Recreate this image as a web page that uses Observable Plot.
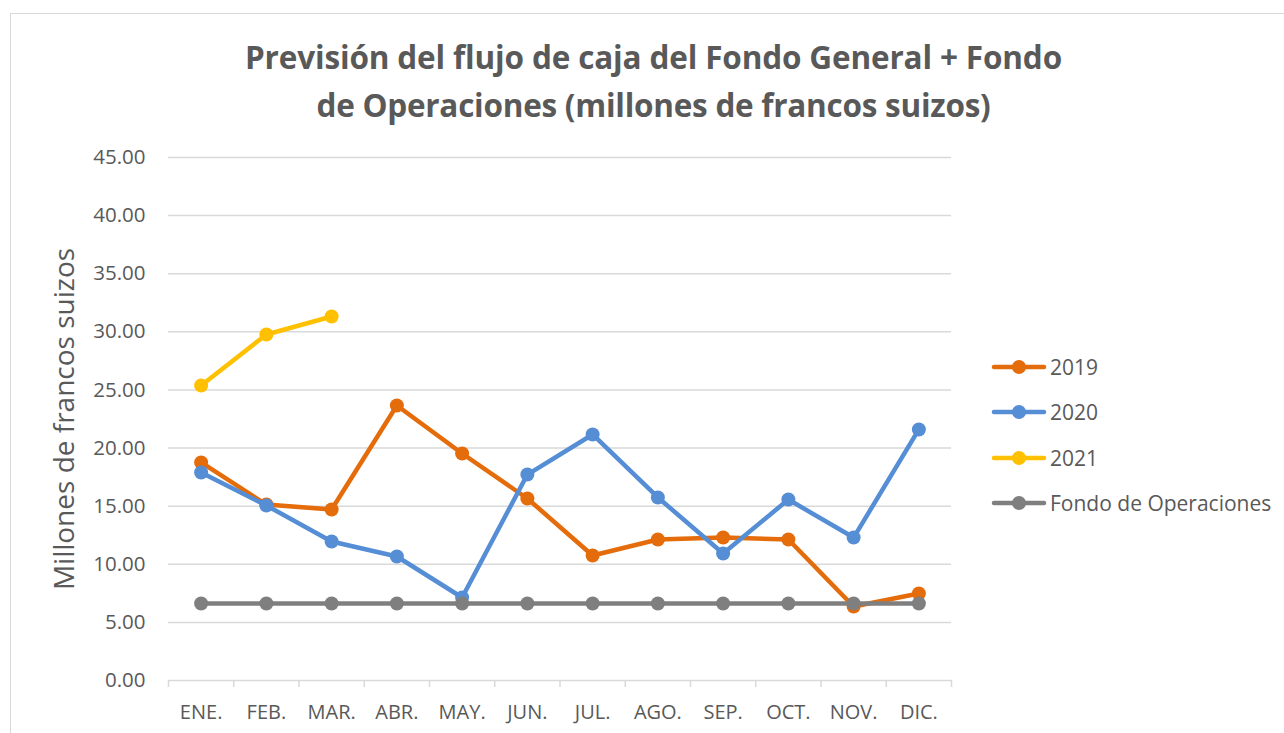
<!DOCTYPE html>
<html>
<head>
<meta charset="utf-8">
<script src="https://cdn.jsdelivr.net/npm/d3@7"></script>
<script src="https://cdn.jsdelivr.net/npm/@observablehq/plot@0.6"></script>
<style>
  html, body { margin:0; padding:0; background:#fff; }
  #wrap { position:relative; width:1284px; height:733px; overflow:hidden; font-family:"Open Sans", sans-serif; color:#595959; }
  #border { position:absolute; left:10px; top:13px; width:1400px; height:800px; border-left:1.5px solid #d9d9d9; border-top:1.5px solid #d9d9d9; }
  .title { position:absolute; left:0; width:1307px; text-align:center; font-family:"Open Sans",sans-serif; font-weight:bold; font-size:31.5px; line-height:1; color:#595959; white-space:nowrap; }
  #chart { position:absolute; left:0; top:0; }
  #legend { position:absolute; left:991px; top:0; }
  .item { position:absolute; left:0; display:flex; align-items:center; height:30px; white-space:nowrap; font-size:21px; color:#595959; }
  .item svg { margin-right:3px; }
</style>
</head>
<body>
<div id="wrap">
  <div id="border"></div>
  <div class="title" id="t1" style="top:41px;">Previsión del flujo de caja del Fondo General + Fondo</div>
  <div class="title" id="t2" style="top:89px;">de Operaciones (millones de francos suizos)</div>
  <div id="chart"></div>
  <div id="legend"></div>
</div>
<script>
const months = ["ENE.","FEB.","MAR.","ABR.","MAY.","JUN.","JUL.","AGO.","SEP.","OCT.","NOV.","DIC."];
const v2019 = [18.76, 15.14, 14.71, 23.66, 19.53, 15.66, 10.76, 12.13, 12.30, 12.13, 6.37, 7.49];
const v2020 = [17.90, 15.06, 11.96, 10.67, 7.14, 17.72, 21.17, 15.75, 10.93, 15.57, 12.30, 21.60];
const v2021 = [25.38, 29.77, 31.32];
const vFondo = [6.63, 6.63, 6.63, 6.63, 6.63, 6.63, 6.63, 6.63, 6.63, 6.63, 6.63, 6.63];
const yTicks = [0, 5, 10, 15, 20, 25, 30, 35, 40, 45];
const seriesNames = ["2019", "2020", "2021", "Fondo de Operaciones"];
const seriesColors = ["#E46C0A", "#558ED5", "#FFC000", "#7F7F7F"];
const yLabel = "Millones de francos suizos";

// fit title lines to the reference widths
const ctx = document.createElement("canvas").getContext("2d");
ctx.font = "bold 31.5px 'Open Sans'";
[["t1", 817], ["t2", 674]].forEach(([id, target]) => {
  const el = document.getElementById(id);
  const txt = el.textContent;
  const w = ctx.measureText(txt).width;
  el.style.letterSpacing = ((target - w) / txt.length) + "px";
});

const seriesValues = [v2019, v2020, v2021, vFondo];
const series = seriesNames.map((name, k) => ({
  name, color: seriesColors[k],
  data: seriesValues[k].map((v, i) => ({i, v}))
}));

const seriesMarks = series.flatMap(s => [
  Plot.line(s.data, {x: "i", y: "v", stroke: s.color, strokeWidth: 4.5, strokeLinejoin: "round", strokeLinecap: "round"}),
  Plot.dot(s.data, {x: "i", y: "v", r: 7, fill: s.color, stroke: "none"})
]);

const chart = Plot.plot({
  width: 1284, height: 733,
  marginLeft: 168, marginRight: 333, marginTop: 157, marginBottom: 53,
  style: {fontFamily: "Open Sans, sans-serif", fontSize: "20px", color: "#595959", background: "transparent", overflow: "visible"},
  x: {type: "linear", domain: [-0.5, 11.5]},
  y: {domain: [0, 45]},
  marks: [
    Plot.gridY(yTicks, {stroke: "#d9d9d9", strokeOpacity: 1, strokeWidth: 1.5}),
    Plot.ruleX(d3.range(13).map(i => i - 0.5), {y1: 0, y2: -0.6, stroke: "#d9d9d9", strokeWidth: 1.5}),
    Plot.axisY(yTicks, {tickFormat: d => d.toFixed(2), tickSize: 0, tickPadding: 23, fontSize: 20.5, label: null, fill: "#595959"}),
    Plot.axisX(d3.range(12), {tickFormat: i => months[i], tickSize: 0, tickPadding: 24, fontSize: 20, label: null, fill: "#595959"}),
    Plot.text([yLabel], {frameAnchor: "left", dx: -103, rotate: -90, fontSize: 28, fill: "#595959", textAnchor: "middle", lineAnchor: "middle"}),
    ...seriesMarks
  ]
});
document.getElementById("chart").appendChild(chart);

const legend = document.getElementById("legend");
const legendY = [367, 412, 458, 503];
series.forEach((s, k) => {
  const it = document.createElement("div");
  it.className = "item";
  it.style.top = (legendY[k] - 15) + "px";
  it.innerHTML = `<svg width="56" height="16"><line x1="3" y1="8" x2="53" y2="8" stroke="${s.color}" stroke-width="4.5" stroke-linecap="round"/><circle cx="28" cy="8" r="7" fill="${s.color}"/></svg><span>${s.name}</span>`;
  legend.appendChild(it);
});
</script>
</body>
</html>
